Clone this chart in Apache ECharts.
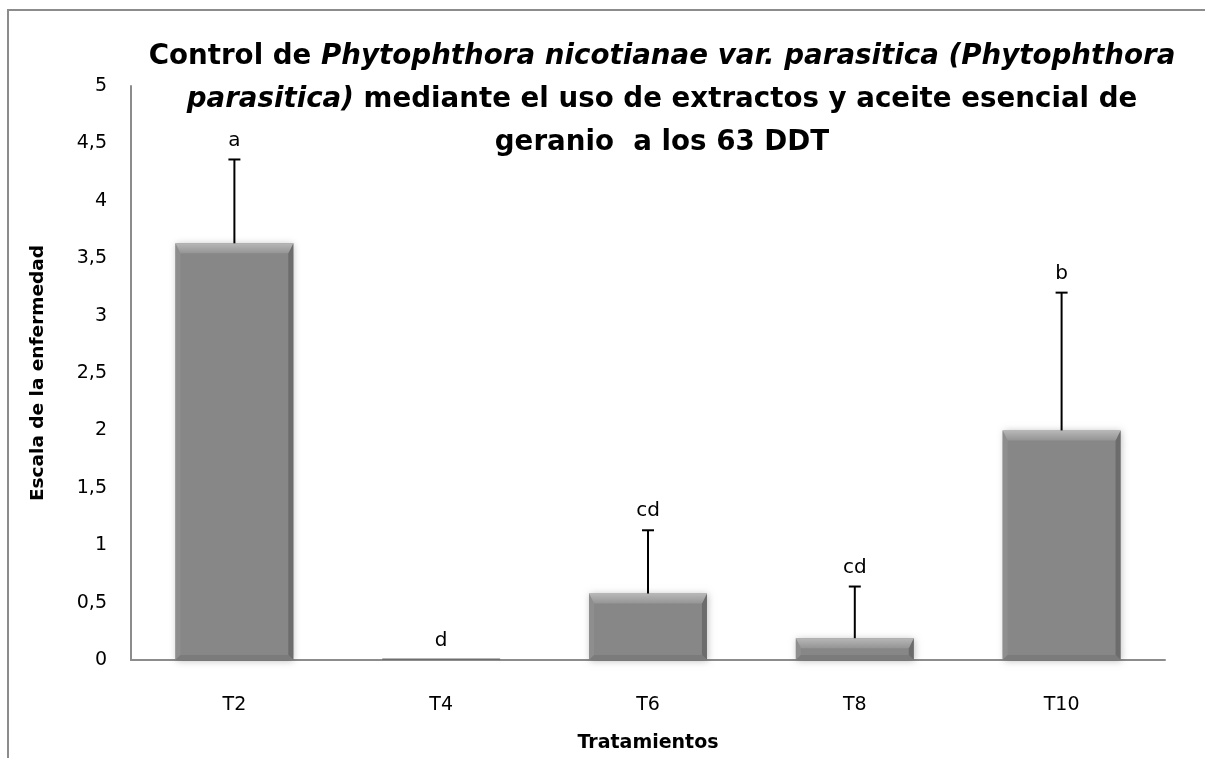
<!DOCTYPE html>
<html><head><meta charset="utf-8">
<script src="https://cdn.jsdelivr.net/npm/echarts@6/dist/echarts.min.js"></script>
<style>html,body{margin:0;padding:0;background:#fff}#c{width:1205px;height:758px}</style>
</head><body><div id="c"></div>
<script>
const categories = ['T2', 'T4', 'T6', 'T8', 'T10'];
const means = [3.63, 0, 0.58, 0.19, 2.0];
const errors = [0.73, 0, 0.55, 0.45, 1.2];
const letters = ['a', 'd', 'cd', 'cd', 'b'];
const yTicks = ['0', '0,5', '1', '1,5', '2', '2,5', '3', '3,5', '4', '4,5', '5'];

const FONT = 'DejaVu Sans';
const chart = echarts.init(document.getElementById('c'), null, {renderer: 'canvas'});
const data = categories.map((c, i) => [i, means[i], errors[i]]);

const option = {
  animation: false,
  backgroundColor: '#fff',
  grid: {left: 131, right: 40, top: 86, bottom: 90},
  graphic: [
    {type: 'rect', shape: {x: 8, y: 10, width: 1400, height: 900}, style: {fill: 'none', stroke: '#8c8c8c', lineWidth: 2}, z: -1},
    {type: 'text', x: 662, y: 35, style: {
      align: 'center', verticalAlign: 'top',
      text: '{b|Control de }{i|Phytophthora nicotianae var. parasitica (Phytophthora}\n{i|parasitica)}{b| mediante el uso de extractos y aceite esencial de}\n{b|geranio  a los 63 DDT}',
      rich: {
        b: {fontFamily: FONT, fontWeight: 'bold', fontSize: 27.7, lineHeight: 43, fill: '#000'},
        i: {fontFamily: FONT, fontWeight: 'bold', fontStyle: 'italic', fontSize: 27.7, lineHeight: 43, fill: '#000'}
      }
    }}
  ],
  xAxis: {
    type: 'category', data: categories,
    axisLine: {lineStyle: {color: '#8c8c8c', width: 2}},
    axisTick: {show: false},
    axisLabel: {color: '#000', fontFamily: FONT, fontSize: 19, margin: 36},
    name: 'Tratamientos', nameLocation: 'middle', nameGap: 74,
    nameTextStyle: {color: '#000', fontFamily: FONT, fontWeight: 'bold', fontSize: 19}
  },
  yAxis: {
    type: 'value', min: 0, max: 5, interval: 0.5,
    axisLine: {show: true, lineStyle: {color: '#8c8c8c', width: 2}},
    axisTick: {show: false},
    splitLine: {show: false},
    axisLabel: {color: '#000', fontFamily: FONT, fontSize: 19, margin: 24,
      formatter: (v) => yTicks[Math.round(v * 2)]},
    name: 'Escala de la enfermedad', nameLocation: 'middle', nameGap: 83, nameRotate: 90,
    nameTextStyle: {color: '#000', fontFamily: FONT, fontWeight: 'bold', fontSize: 18.5}
  },
  series: [
    {
      type: 'custom', data: data, z: 2,
      renderItem: function (params, api) {
        const i = api.value(0), v = api.value(1);
        const p0 = api.coord([i, 0]);
        const p1 = api.coord([i, v]);
        const bw = api.size([1, 0])[0] * 0.57;
        const x0 = p0[0] - bw / 2, x1 = p0[0] + bw / 2;
        const yT = p1[1], yB = p0[1];
        const h = yB - yT;
        if (h < 1) {
          return {type: 'rect', shape: {x: x0, y: yB - 1.5, width: bw, height: 1.5}, style: {fill: '#6e6e6e'}};
        }
        const bt = Math.min(10, h / 2), bs = Math.min(5, bw / 2);
        return {
          type: 'group',
          children: [
            {type: 'rect', shape: {x: x0, y: yT, width: bw, height: h},
              style: {fill: '#878787', shadowBlur: 7, shadowColor: 'rgba(0,0,0,0.25)', shadowOffsetX: 1, shadowOffsetY: 1}},
            {type: 'polygon', shape: {points: [[x0, yB], [x0 + bs, yB - bs], [x0 + bs, yT + bt], [x0, yT]]}, style: {fill: '#8e8e8e'}},
            {type: 'polygon', shape: {points: [[x1, yT], [x1, yB], [x1 - bs, yB - bs], [x1 - bs, yT + bt]]}, style: {fill: '#6c6c6c'}},
            {type: 'polygon', shape: {points: [[x0, yB], [x1, yB], [x1 - bs, yB - bs], [x0 + bs, yB - bs]]}, style: {fill: '#7b7b7b'}},
            {type: 'polygon', shape: {points: [[x0, yT], [x1, yT], [x1 - bs, yT + bt], [x0 + bs, yT + bt]]},
              style: {fill: new echarts.graphic.LinearGradient(0, 0, 0, 1, [{offset: 0, color: '#b8b8b8'}, {offset: 1, color: '#959595'}])}}
          ]
        };
      }
    },
    {
      type: 'custom', data: data, z: 3,
      renderItem: function (params, api) {
        const i = api.value(0), v = api.value(1), e = api.value(2);
        const pm = api.coord([i, v]);
        const pe = api.coord([i, v + e]);
        const children = [];
        if (e > 0) {
          children.push({type: 'line', shape: {x1: pm[0], y1: pm[1], x2: pe[0], y2: pe[1]}, style: {stroke: '#000', lineWidth: 2}});
          children.push({type: 'line', shape: {x1: pe[0] - 6, y1: pe[1], x2: pe[0] + 6, y2: pe[1]}, style: {stroke: '#000', lineWidth: 2}});
        }
        children.push({type: 'text', x: pe[0], y: pe[1] - 19, style: {text: letters[i], align: 'center', verticalAlign: 'middle',
          fontFamily: FONT, fontSize: 20, fill: '#000'}});
        return {type: 'group', children: children};
      }
    }
  ]
};
chart.setOption(option);
</script>
</body></html>
